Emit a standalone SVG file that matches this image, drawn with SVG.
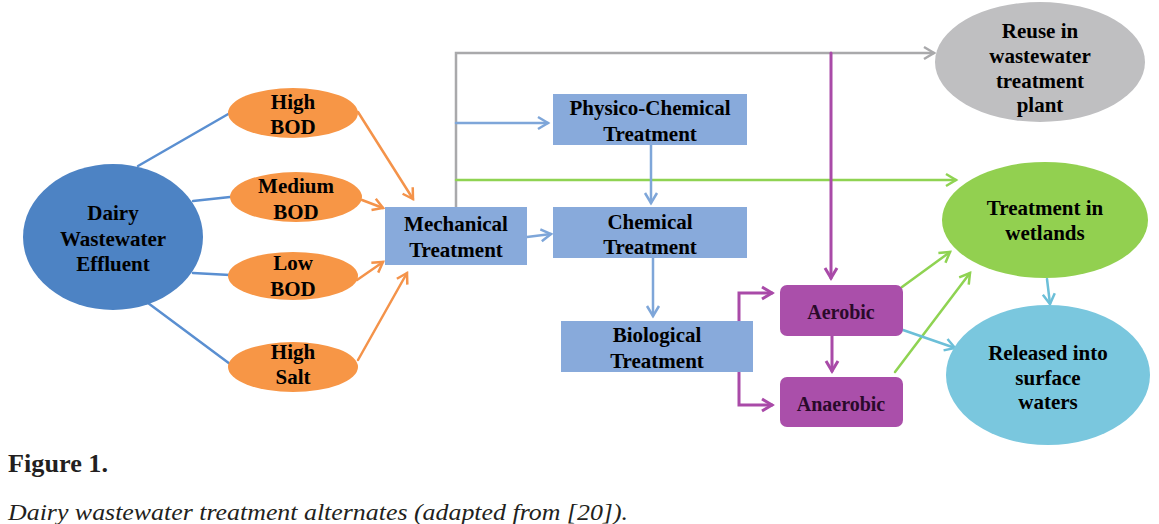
<svg xmlns="http://www.w3.org/2000/svg" width="1159" height="524" viewBox="0 0 1159 524">
<style>
.t{font-family:"Liberation Serif","Times New Roman",serif;font-weight:bold;font-size:21px;fill:#000;text-anchor:middle}
.tp{fill:#2a0a2a;font-size:20px}
.c{fill:none;stroke-width:2.5;stroke-linecap:round;stroke-linejoin:miter}
.blue{stroke:#7ea6d9}
.dblue{stroke:#5a8fd1}
.orange{stroke:#f4934a}
.gray{stroke:#a9a9ab}
.green{stroke:#8fd352}
.purple{stroke:#a94aa8}
.cyan{stroke:#6cbfd8}
.box{fill:#88aadb}
.cap{font-family:"Liberation Serif","Times New Roman",serif;fill:#231f20}
</style>
<defs>
<marker id="aBlue" markerUnits="userSpaceOnUse" markerWidth="14" markerHeight="14" refX="11" refY="6" orient="auto" overflow="visible"><path d="M1,0 L11,6 L1,12" fill="none" stroke="#7ea6d9" stroke-width="2.5"/></marker>
<marker id="aOrange" markerUnits="userSpaceOnUse" markerWidth="14" markerHeight="14" refX="11" refY="6" orient="auto" overflow="visible"><path d="M1,0 L11,6 L1,12" fill="none" stroke="#f4934a" stroke-width="2.5"/></marker>
<marker id="aGray" markerUnits="userSpaceOnUse" markerWidth="14" markerHeight="14" refX="11" refY="6" orient="auto" overflow="visible"><path d="M1,0 L11,6 L1,12" fill="none" stroke="#a9a9ab" stroke-width="2.5"/></marker>
<marker id="aGreen" markerUnits="userSpaceOnUse" markerWidth="14" markerHeight="14" refX="11" refY="6" orient="auto" overflow="visible"><path d="M1,0 L11,6 L1,12" fill="none" stroke="#8fd352" stroke-width="2.5"/></marker>
<marker id="aPurple" markerUnits="userSpaceOnUse" markerWidth="14" markerHeight="14" refX="11" refY="6" orient="auto" overflow="visible"><path d="M1,0 L11,6 L1,12" fill="none" stroke="#a94aa8" stroke-width="3"/></marker>
<marker id="aCyan" markerUnits="userSpaceOnUse" markerWidth="14" markerHeight="14" refX="11" refY="6" orient="auto" overflow="visible"><path d="M1,0 L11,6 L1,12" fill="none" stroke="#6cbfd8" stroke-width="2.5"/></marker>
</defs>
<rect width="1159" height="524" fill="#fff"/>

<g id="connectors">
<path class="c dblue" d="M138,166 L230,113"/>
<path class="c dblue" d="M193,201 L230,197"/>
<path class="c dblue" d="M193,273 L230,275"/>
<path class="c dblue" d="M148,303 L230,364"/>
<path class="c orange" d="M358,112 L413,199" marker-end="url(#aOrange)"/>
<path class="c orange" d="M362,200 L383,208" marker-end="url(#aOrange)"/>
<path class="c orange" d="M357,280 L383,262" marker-end="url(#aOrange)"/>
<path class="c orange" d="M358,360 L407,273" marker-end="url(#aOrange)"/>
<path class="c gray" d="M456,207 V53 H934" marker-end="url(#aGray)"/>
<path class="c blue" d="M456,123 H548" marker-end="url(#aBlue)"/>
<path class="c green" d="M456,180 H956" marker-end="url(#aGreen)"/>
<path class="c blue" d="M651,145 V203" marker-end="url(#aBlue)"/>
<path class="c blue" d="M527,237 L551,234" marker-end="url(#aBlue)"/>
<path class="c blue" d="M653,258 V316" marker-end="url(#aBlue)"/>
<path class="c purple" d="M739,321 V293 H772" marker-end="url(#aPurple)" style="stroke-width:3"/>
<path class="c purple" d="M739,372 V405 H772" marker-end="url(#aPurple)" style="stroke-width:3"/>
<path class="c purple" d="M831,53 V278" marker-end="url(#aPurple)" style="stroke-width:3"/>
<path class="c purple" d="M832,336 V371" marker-end="url(#aPurple)" style="stroke-width:3"/>
<path class="c green" d="M902,287 L950,252" marker-end="url(#aGreen)"/>
<path class="c green" d="M895,372 L970,273" marker-end="url(#aGreen)"/>
<path class="c cyan" d="M903,330 L955,348" marker-end="url(#aCyan)"/>
<path class="c cyan" d="M1047,279 L1050,304" marker-end="url(#aCyan)"/>
</g>

<g id="dairy">
<ellipse cx="113" cy="237" rx="90" ry="73" fill="#4d83c4"/>
<text class="t" x="113" y="220">Dairy</text>
<text class="t" x="113" y="246">Wastewater</text>
<text class="t" x="113" y="271">Effluent</text>
</g>
<g id="high-bod">
<ellipse cx="293" cy="113" rx="65" ry="25" fill="#f79646"/>
<text class="t" x="293" y="109">High</text>
<text class="t" x="293" y="134">BOD</text>
</g>
<g id="medium-bod">
<ellipse cx="296" cy="197" rx="66" ry="25" fill="#f79646"/>
<text class="t" x="296" y="193">Medium</text>
<text class="t" x="296" y="219">BOD</text>
</g>
<g id="low-bod">
<ellipse cx="293" cy="276" rx="65" ry="24" fill="#f79646"/>
<text class="t" x="293" y="270">Low</text>
<text class="t" x="293" y="296">BOD</text>
</g>
<g id="high-salt">
<ellipse cx="293" cy="367" rx="65" ry="25" fill="#f79646"/>
<text class="t" x="293" y="359">High</text>
<text class="t" x="293" y="384">Salt</text>
</g>
<g id="mechanical">
<rect class="box" x="385" y="207" width="142" height="58"/>
<text class="t" x="456" y="231">Mechanical</text>
<text class="t" x="456" y="257">Treatment</text>
</g>
<g id="physico">
<rect class="box" x="553" y="94" width="194" height="51"/>
<text class="t" x="650" y="115">Physico-Chemical</text>
<text class="t" x="650" y="141">Treatment</text>
</g>
<g id="chemical">
<rect class="box" x="553" y="207" width="194" height="51"/>
<text class="t" x="650" y="229">Chemical</text>
<text class="t" x="650" y="254">Treatment</text>
</g>
<g id="biological">
<rect class="box" x="561" y="321" width="192" height="51"/>
<text class="t" x="657" y="342">Biological</text>
<text class="t" x="657" y="368">Treatment</text>
</g>
<g id="aerobic">
<rect x="780" y="285" width="123" height="51" rx="7" fill="#aa4faa"/>
<text class="t tp" x="841" y="319">Aerobic</text>
</g>
<g id="anaerobic">
<rect x="780" y="377" width="123" height="50" rx="7" fill="#aa4faa"/>
<text class="t tp" x="841" y="411">Anaerobic</text>
</g>
<g id="reuse">
<ellipse cx="1040" cy="62" rx="105" ry="60" fill="#bfbfc1"/>
<text class="t" x="1040" y="38">Reuse in</text>
<text class="t" x="1040" y="63">wastewater</text>
<text class="t" x="1040" y="88">treatment</text>
<text class="t" x="1040" y="112">plant</text>
</g>
<g id="wetlands">
<ellipse cx="1045" cy="220" rx="103" ry="58" fill="#92d050"/>
<text class="t" x="1045" y="215">Treatment in</text>
<text class="t" x="1045" y="240">wetlands</text>
</g>
<g id="released">
<ellipse cx="1048" cy="375" rx="102" ry="70" fill="#7ac7de"/>
<text class="t" x="1048" y="360">Released into</text>
<text class="t" x="1048" y="385">surface</text>
<text class="t" x="1048" y="409">waters</text>
</g>

<g id="caption">
<text class="cap" x="8" y="472" font-size="26" font-weight="bold" textLength="100" lengthAdjust="spacingAndGlyphs">Figure 1.</text>
<text class="cap" x="8" y="520" font-size="24" font-style="italic" textLength="620" lengthAdjust="spacingAndGlyphs">Dairy wastewater treatment alternates (adapted from [20]).</text>
</g>
</svg>
